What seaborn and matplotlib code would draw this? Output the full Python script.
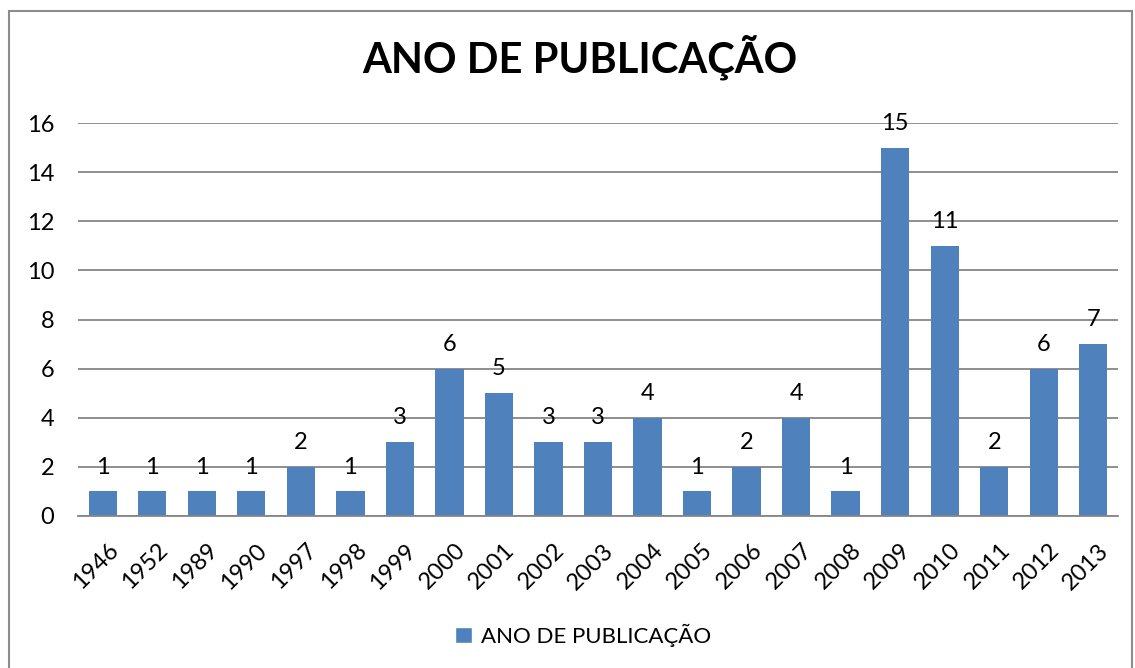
import matplotlib
matplotlib.use("Agg")
import matplotlib.pyplot as plt
import matplotlib.transforms as mtransforms
import seaborn as sns
import pandas as pd
from matplotlib.patches import Rectangle, Patch

years = ["1946", "1952", "1989", "1990", "1997", "1998", "1999", "2000", "2001", "2002",
         "2003", "2004", "2005", "2006", "2007", "2008", "2009", "2010", "2011", "2012", "2013"]
counts = [1, 1, 1, 1, 2, 1, 3, 6, 5, 3, 3, 4, 1, 2, 4, 1, 15, 11, 2, 6, 7]
series_name = "ANO DE PUBLICAÇÃO"
title = "ANO DE PUBLICAÇÃO"
yticks = [0, 2, 4, 6, 8, 10, 12, 14, 16]

sns.set_theme(style="white")
plt.rcParams['font.family'] = ['Lato', 'DejaVu Sans']
plt.rcParams['text.color'] = 'black'
plt.rcParams['xtick.color'] = 'black'
plt.rcParams['ytick.color'] = 'black'

df = pd.DataFrame({"ano": years, "n": counts, "serie": series_name})

fig = plt.figure(figsize=(11.35, 6.68), dpi=100)
ax = fig.add_axes([78/1135, 1 - 516/668, (1118 - 78)/1135, (516 - 123)/668])

blue = "#4F81BD"
sns.barplot(data=df, x="ano", y="n", hue="serie", palette=[blue], width=0.571,
            ax=ax, legend=False, saturation=1, edgecolor="none", linewidth=0)
ax.set_xlim(-0.5, len(years) - 0.5)
ax.set_ylim(0, 16)
ax.set_yticks(yticks)
ax.set_yticklabels([str(t) for t in yticks], fontsize=17)
ax.yaxis.grid(True, color="#868686", linewidth=1.3)
ax.set_axisbelow(True)
for s in ["top", "right", "left"]:
    ax.spines[s].set_visible(False)
ax.spines["bottom"].set_color("#868686")
ax.spines["bottom"].set_linewidth(1.3)
ax.tick_params(axis="y", length=0, pad=17)
ax.tick_params(axis="x", length=0, pad=17)
ax.set_xlabel("")
ax.set_ylabel("")
shift = mtransforms.ScaledTranslation(5/100, 0, fig.dpi_scale_trans)
for lab in ax.get_xticklabels():
    lab.set_rotation(45)
    lab.set_ha("right")
    lab.set_va("top")
    lab.set_rotation_mode("anchor")
    lab.set_fontsize(17)
    lab.set_transform(lab.get_transform() + shift)

for cont in ax.containers:
    ax.bar_label(cont, labels=[str(v) for v in counts], padding=10, fontsize=17, color="black")

fig.text(0.5105, 1 - 73/668, title, ha="center", va="baseline", fontsize=30, fontweight="bold")

fig.legend(handles=[Patch(facecolor=blue, label=series_name)], loc="center",
           bbox_to_anchor=(583/1135, 1 - 635/668), frameon=False, fontsize=16,
           handlelength=0.75, handleheight=0.75, handletextpad=0.4)

fig.patches.append(Rectangle((9/1135, -0.01), (1132 - 9)/1135, 1 - 11/668 + 0.01,
                             transform=fig.transFigure, fill=False,
                             edgecolor="#8C8C8C", linewidth=1.5))

fig.savefig("out.png", dpi=100, facecolor="white")
